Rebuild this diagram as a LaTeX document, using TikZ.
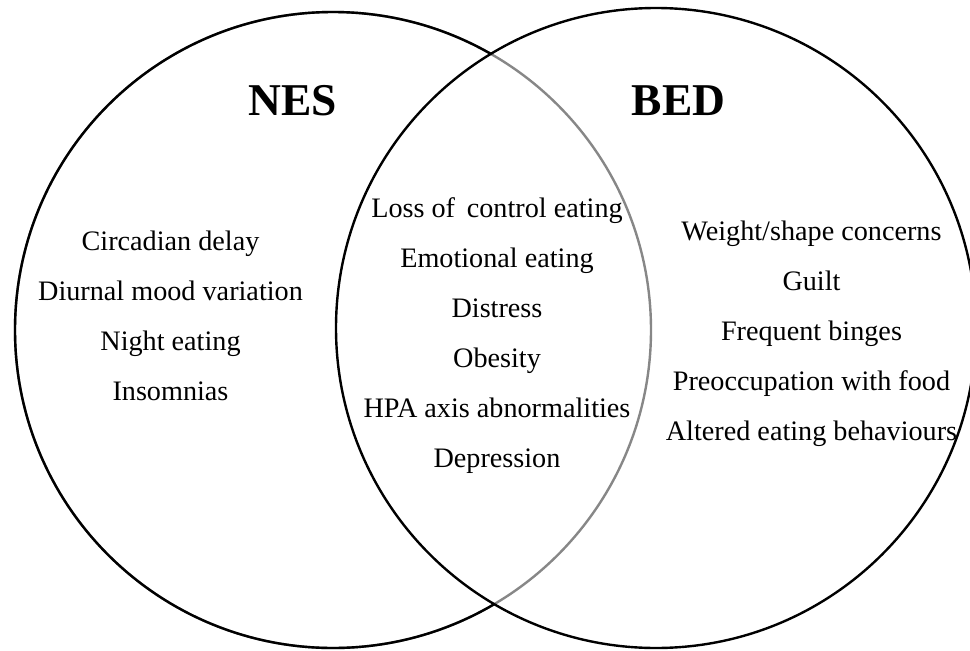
\documentclass[tikz,border=0pt]{standalone}
\usepackage{fontspec}
\setmainfont{Liberation Serif}
\begin{document}
\begin{tikzpicture}[x=1pt,y=-1pt,
  item/.style={anchor=base,inner sep=0pt,font=\fontsize{28.2}{30}\selectfont},
  title/.style={anchor=base,inner sep=0pt,font=\fontsize{45.5}{50}\selectfont\bfseries},
  ring/.style={line width=2.4pt}]
\useasboundingbox (0,0) rectangle (970,651);
\clip (0,0) rectangle (970,651);
\coordinate (cl) at (333,330);
\coordinate (cr) at (656,328);
% left circle: grey part inside right circle
\draw[ring,color={rgb,255:red,135;green,135;blue,135}] (cl) circle[radius=318];
\begin{scope}[even odd rule]
  \clip (-10,-10) rectangle (990,670) (cr) circle[radius=320];
  \draw[ring] (cl) circle[radius=318];
\end{scope}
\draw[ring] (cr) circle[radius=320];
% titles
\node[title] (nes) at (292.5,115) {NES};
\node[title] (bed) at (678.5,115) {BED};
% left
\node[item] (l1) at (170.5,250) {Circadian delay};
\node[item] (l2) at (170.5,300) {Diurnal mood variation};
\node[item] (l3) at (170.5,350) {Night eating};
\node[item] (l4) at (170.5,400) {Insomnias};
% middle
\node[item] (m1) at (497,217) {Loss of\, control eating};
\node[item] (m2) at (497,267) {Emotional eating};
\node[item] (m3) at (497,317) {Distress};
\node[item] (m4) at (497,367) {Obesity};
\node[item] (m5) at (497,417) {HPA axis abnormalities};
\node[item] (m6) at (497,467) {Depression};
% right
\node[item] (r1) at (811.5,240) {Weight/shape concerns};
\node[item] (r2) at (811.5,290) {Guilt};
\node[item] (r3) at (811.5,340) {Frequent binges};
\node[item] (r4) at (811.5,390) {Preoccupation with food};
\node[item] (r5) at (811.5,440) {Altered eating behaviours};
\end{tikzpicture}
\end{document}
